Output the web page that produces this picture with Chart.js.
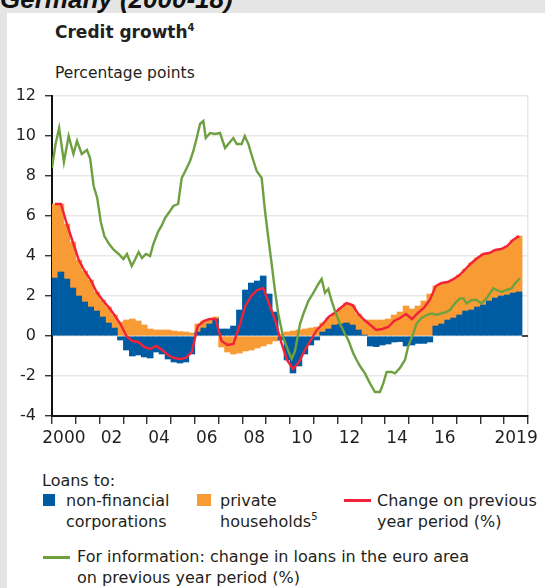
<!DOCTYPE html>
<html>
<head>
<meta charset="utf-8">
<script src="https://cdn.jsdelivr.net/npm/chart.js@4.4.1/dist/chart.umd.min.js"></script>
<style>
  html, body { margin: 0; padding: 0; }
  body { width: 545px; height: 588px; background: #e5e5e5; position: relative; overflow: hidden;
         font-family: "DejaVu Sans", sans-serif; color: #231f20; }
  #panel { position: absolute; left: 7px; top: 13px; right: 0; bottom: 0; background: #fff; }
  .abs { position: absolute; white-space: nowrap; }
  #head { left: 0; top: -13px; font: bold italic 26px/24px "Liberation Sans", Arial, sans-serif; color: #111; }
  #title { left: 55px; top: 24px; font-weight: bold; font-size: 17px; line-height: 1; }
  #unit { left: 55px; top: 66px; font-size: 15.5px; line-height: 1; }
  sup { font-size: 10px; vertical-align: 7px; line-height: 0; }
  .leg { font-size: 16px; line-height: 21px; }
  .sw { position: absolute; width: 12px; height: 12px; }
  .ln { position: absolute; height: 3px; width: 27px; }
  canvas { position: absolute; left: 0; top: 0; }
</style>
</head>
<body>
<div id="panel"></div>
<div id="head" class="abs">Germany (2000-18)</div>
<div id="title" class="abs">Credit growth<sup>4</sup></div>
<div id="unit" class="abs">Percentage points</div>

<div class="abs leg" style="left:42px;top:470px">Loans to:</div>
<div class="sw" style="left:43px;top:494px;background:#005ca2"></div>
<div class="abs leg" style="left:66px;top:490px">non-financial<br>corporations</div>
<div class="sw" style="left:197px;top:494px;width:14px;background:#f99b34"></div>
<div class="abs leg" style="left:220px;top:490px">private<br>households<sup>5</sup></div>
<div class="ln" style="left:344px;top:499px;background:#f2223a"></div>
<div class="abs leg" style="left:377px;top:490px">Change on previous<br>year period (%)</div>
<div class="ln" style="left:43px;top:556px;background:#6ea042"></div>
<div class="abs leg" style="left:77px;top:546px">For information: change in loans in the euro area<br>on previous year period (%)</div>

<canvas id="chart" width="545" height="588"></canvas>

<script>
// Quartale 2000 Q1 bis 2019 Q3
const quarterLabels = [
  "2000Q1", "2000Q2", "2000Q3", "2000Q4", "2001Q1", "2001Q2", "2001Q3", "2001Q4",
  "2002Q1", "2002Q2", "2002Q3", "2002Q4", "2003Q1", "2003Q2", "2003Q3", "2003Q4",
  "2004Q1", "2004Q2", "2004Q3", "2004Q4", "2005Q1", "2005Q2", "2005Q3", "2005Q4",
  "2006Q1", "2006Q2", "2006Q3", "2006Q4", "2007Q1", "2007Q2", "2007Q3", "2007Q4",
  "2008Q1", "2008Q2", "2008Q3", "2008Q4", "2009Q1", "2009Q2", "2009Q3", "2009Q4",
  "2010Q1", "2010Q2", "2010Q3", "2010Q4", "2011Q1", "2011Q2", "2011Q3", "2011Q4",
  "2012Q1", "2012Q2", "2012Q3", "2012Q4", "2013Q1", "2013Q2", "2013Q3", "2013Q4",
  "2014Q1", "2014Q2", "2014Q3", "2014Q4", "2015Q1", "2015Q2", "2015Q3", "2015Q4",
  "2016Q1", "2016Q2", "2016Q3", "2016Q4", "2017Q1", "2017Q2", "2017Q3", "2017Q4",
  "2018Q1", "2018Q2", "2018Q3", "2018Q4", "2019Q1", "2019Q2", "2019Q3",
];
// Beitrag nichtfinanzielle Unternehmen
const nonFinancialCorporations = [
  2.9, 3.2, 2.85, 2.4, 2.0, 1.7, 1.45, 1.25,
  0.95, 0.65, 0.4, -0.2, -0.7, -1.0, -0.95, -1.05,
  -1.1, -0.8, -0.9, -1.15, -1.3, -1.35, -1.3, -0.9,
  0.2, 0.4, 0.6, 0.85, 0.35, 0.35, 0.5, 1.3,
  2.3, 2.65, 2.75, 3.0, 2.1, 1.2, -0.2, -1.2,
  -1.85, -1.5, -0.9, -0.45, -0.2, 0.2, 0.35, 0.55,
  0.6, 0.65, 0.55, 0.3, 0.05, -0.5, -0.53, -0.45,
  -0.4, -0.3, -0.28, -0.5, -0.45, -0.37, -0.37, -0.3,
  0.5, 0.6, 0.8, 0.9, 1.05, 1.25, 1.3, 1.45,
  1.55, 1.75, 1.9, 2.0, 2.05, 2.15, 2.2,
];
// Beitrag private Haushalte
const privateHouseholds = [
  3.7, 3.4, 2.75, 2.3, 1.8, 1.55, 1.35, 0.95,
  0.85, 0.8, 0.65, 0.7, 0.8, 0.85, 0.75, 0.55,
  0.35, 0.3, 0.3, 0.3, 0.25, 0.22, 0.2, 0.15,
  0.4, 0.35, 0.25, 0.1, -0.55, -0.8, -0.9, -0.85,
  -0.75, -0.7, -0.6, -0.5, -0.4, -0.25, 0.1, 0.2,
  0.25, 0.3, 0.35, 0.4, 0.45, 0.45, 0.55, 0.6,
  0.8, 1.0, 1.0, 0.8, 0.75, 0.8, 0.8, 0.8,
  0.85, 1.05, 1.2, 1.5, 1.35, 1.5, 1.75, 2.1,
  2.0, 2.05, 1.9, 1.95, 2.0, 2.1, 2.35, 2.45,
  2.55, 2.4, 2.4, 2.35, 2.45, 2.65, 2.8,
];
// Veränderung gegenüber Vorjahr (%)
const changeOnPreviousYear = [
  6.6, 6.6, 5.6, 4.7, 3.8, 3.25, 2.8, 2.2,
  1.8, 1.45, 1.05, 0.6, 0.0, -0.25, -0.3, -0.55,
  -0.65, -0.5, -0.7, -0.95, -1.1, -1.15, -1.1, -0.8,
  0.5, 0.75, 0.85, 0.85, -0.25, -0.45, -0.4, 0.5,
  1.5, 2.0, 2.3, 2.4, 1.6, 0.8, -0.3, -1.2,
  -1.65, -1.3, -0.7, -0.2, 0.3, 0.6, 0.95, 1.15,
  1.4, 1.65, 1.55, 1.1, 0.8, 0.55, 0.3, 0.35,
  0.45, 0.75, 0.9, 1.1, 0.85, 1.15, 1.4, 1.8,
  2.5, 2.65, 2.7, 2.85, 3.05, 3.35, 3.65, 3.9,
  4.1, 4.15, 4.3, 4.35, 4.5, 4.8, 5.0,
];
const euroAreaDates = [
  2000.0, 2000.15, 2000.3, 2000.5, 2000.7, 2000.9, 2001.05, 2001.25, 2001.47, 2001.6,
  2001.75, 2001.9, 2002.05, 2002.2, 2002.4, 2002.6, 2002.8, 2003.0, 2003.15, 2003.35,
  2003.5, 2003.64, 2003.78, 2003.95, 2004.12, 2004.26, 2004.47, 2004.6, 2004.75, 2004.96,
  2005.1, 2005.3, 2005.45, 2005.6, 2005.8, 2005.94, 2006.08, 2006.22, 2006.36, 2006.46,
  2006.64, 2006.85, 2007.06, 2007.27, 2007.48, 2007.62, 2007.76, 2007.97, 2008.1, 2008.25,
  2008.4, 2008.6, 2008.81, 2008.95, 2009.09, 2009.23, 2009.37, 2009.51, 2009.72, 2009.93,
  2010.07, 2010.21, 2010.42, 2010.56, 2010.77, 2010.98, 2011.19, 2011.33, 2011.47, 2011.61,
  2011.75, 2011.89, 2012.1, 2012.31, 2012.45, 2012.66, 2012.8, 2012.94, 2013.15, 2013.36,
  2013.57, 2013.78, 2013.92, 2014.06, 2014.27, 2014.41, 2014.62, 2014.83, 2014.97, 2015.18,
  2015.32, 2015.53, 2015.74, 2015.95, 2016.16, 2016.37, 2016.58, 2016.72, 2016.93, 2017.14,
  2017.28, 2017.42, 2017.63, 2017.84, 2018.05, 2018.26, 2018.4, 2018.54, 2018.68, 2018.89,
  2019.1, 2019.31, 2019.45, 2019.66,
];
const euroAreaGrowth = [
  8.4, 9.6, 10.4, 8.7, 10.0, 9.1, 9.75, 9.1, 9.3, 8.9,
  7.5, 6.9, 5.7, 5.0, 4.6, 4.3, 4.1, 3.85, 4.1, 3.5,
  3.85, 4.2, 3.9, 4.1, 4.0, 4.6, 5.25, 5.5, 5.9, 6.25,
  6.5, 6.6, 7.9, 8.25, 8.75, 9.25, 9.9, 10.6, 10.75, 9.9,
  10.15, 10.1, 10.15, 9.4, 9.7, 9.9, 9.6, 9.6, 10.0, 9.6,
  9.0, 8.25, 7.9, 6.25, 4.9, 3.6, 2.25, 1.1, -0.1, -0.75,
  -1.15, -0.75, 0.6, 1.1, 1.75, 2.15, 2.6, 2.85, 2.15, 2.35,
  1.75, 1.25, 0.6, 0.1, -0.2, -0.87, -1.2, -1.5, -1.87, -2.37,
  -2.8, -2.8, -2.37, -1.8, -1.8, -1.87, -1.6, -1.2, -0.5, 0.13,
  0.63, 0.9, 1.05, 1.13, 1.05, 1.13, 1.2, 1.3, 1.63, 1.88,
  1.88, 1.63, 1.8, 1.8, 1.63, 1.88, 2.13, 2.38, 2.3, 2.2,
  2.3, 2.38, 2.63, 2.88,
];
// Achsenbeschriftungen
const yearTickLabels = { 2000: "2000", 2002: "02", 2004: "04", 2006: "06", 2008: "08",
  2010: "10", 2012: "12", 2014: "14", 2016: "16", 2019: "2019" };

// Quartal -> Mitte des Quartals auf der Zeitachse
const toYear = (label) => Number(label.slice(0, 4)) + (Number(label.slice(5)) - 0.5) / 4;
const quarterX = quarterLabels.map(toYear);
const points = (xs, ys) => xs.map((x, i) => ({ x: x, y: ys[i] }));

const textColor = "#231f20";
const axisColor = "#111";
const gridColor = "#e8e8e8";

const zeroStub = {
  id: "zeroStub",
  afterDatasetsDraw(chart) {
    let { ctx, chartArea, scales } = chart;
    let y = scales.y.getPixelForValue(0);
    ctx.save();
    ctx.strokeStyle = axisColor;
    ctx.lineWidth = 1.5;
    ctx.beginPath();
    ctx.moveTo(chartArea.right - 6, y);
    ctx.lineTo(chartArea.right, y);
    ctx.stroke();
    ctx.restore();
  },
};

let context = document.getElementById("chart").getContext("2d");
let chart = new Chart(context, {
  data: {
    datasets: [
      {
        type: "line",
        label: "For information: change in loans in the euro area on previous year period (%)",
        data: points(euroAreaDates, euroAreaGrowth),
        borderColor: "#6ea042",
        borderWidth: 2.4,
        pointRadius: 0,
        tension: 0,
        stack: "euro",
      },
      {
        type: "line",
        label: "Change on previous year period (%)",
        data: points(quarterX, changeOnPreviousYear),
        borderColor: "#f2223a",
        borderWidth: 2.4,
        pointRadius: 0,
        tension: 0,
        stack: "total",
      },
      {
        type: "bar",
        label: "non-financial corporations",
        data: points(quarterX, nonFinancialCorporations),
        backgroundColor: "#005ca2",
        barPercentage: 1,
        categoryPercentage: 1,
      },
      {
        type: "bar",
        label: "private households",
        data: points(quarterX, privateHouseholds),
        backgroundColor: "#f99b34",
        barPercentage: 1,
        categoryPercentage: 1,
      },
    ],
  },
  options: {
    responsive: false,
    animation: false,
    layout: { padding: { left: 0, top: 96, right: 17, bottom: 142 } },
    plugins: { legend: { display: false }, tooltip: { enabled: false } },
    scales: {
      x: {
        type: "linear",
        min: 2000,
        max: 2020,
        offset: false,
        stacked: true,
        afterFit: (scale) => { scale.height = 30; },
        ticks: {
          stepSize: 1,
          autoSkip: false,
          maxRotation: 0,
          labelOffset: 11.9,
          padding: 4,
          color: textColor,
          font: { family: "DejaVu Sans", size: 17 },
          callback: (value) => yearTickLabels[value] || "",
        },
        grid: {
          offset: false,
          color: (c) => (c.tick && c.tick.value === 2020 ? gridColor : "rgba(0,0,0,0)"),
          lineWidth: 1.5,
          tickColor: axisColor,
          tickLength: 8,
          tickWidth: 1.2,
        },
        border: { color: axisColor, width: 2 },
      },
      y: {
        min: -4,
        max: 12,
        stacked: true,
        afterFit: (scale) => { scale.width = 52; },
        ticks: {
          stepSize: 2,
          padding: 9,
          color: textColor,
          font: { family: "DejaVu Sans", size: 16 },
        },
        grid: {
          color: gridColor,
          lineWidth: 1.5,
          tickColor: axisColor,
          tickLength: 7,
          tickWidth: 1.2,
        },
        border: { color: axisColor, width: 2 },
      },
    },
  },
  plugins: [zeroStub],
});
</script>
</body>
</html>
